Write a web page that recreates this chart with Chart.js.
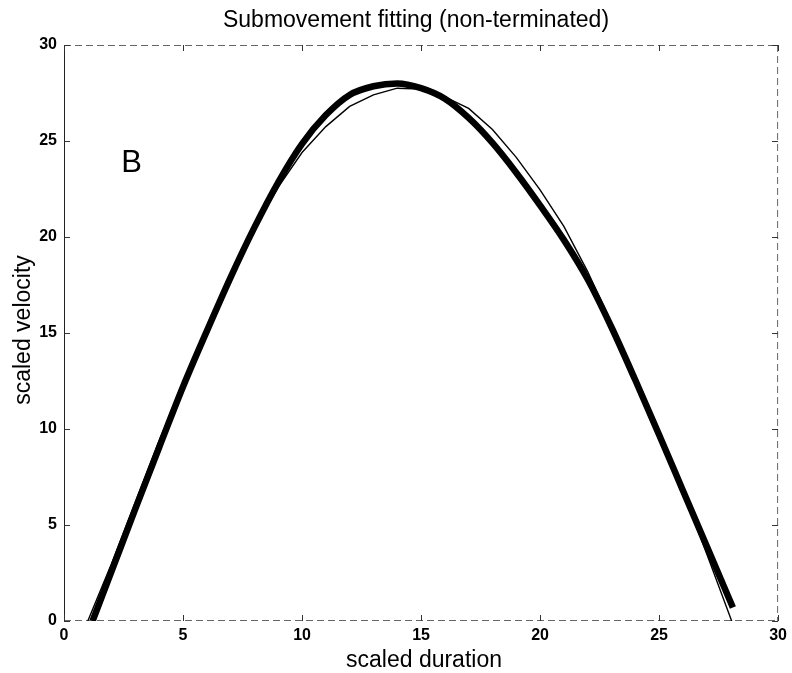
<!DOCTYPE html>
<html>
<head>
<meta charset="utf-8">
<title>Submovement fitting (non-terminated)</title>
<script src="https://cdn.jsdelivr.net/npm/chart.js@4.4.1/dist/chart.umd.min.js"></script>
<style>
  html, body { margin: 0; padding: 0; background: #fff; }
  #wrap { width: 792px; height: 673px; }
</style>
</head>
<body>
<div id="wrap"><canvas id="chart" width="792" height="673"></canvas></div>
<script>
const dataX = [1, 2, 3, 4, 5, 6, 7, 8, 9, 10, 11, 12, 13, 14, 15, 16, 17, 18, 19, 20, 21, 22, 23, 24, 25, 26, 27, 28.05];
const dataY = [0, 3.0, 6.2, 9.4, 12.4, 15.3, 18.0, 20.5, 22.6, 24.4, 25.75, 26.8, 27.4, 27.75, 27.7, 27.3, 26.7, 25.6, 24.15, 22.45, 20.55, 18.2, 15.5, 12.7, 9.8, 6.8, 3.5, 0];

// thick line: fitted submovement
const fitX = [1.2, 2, 3, 4, 5, 6, 7, 8, 9, 10, 11, 12, 13, 14, 15, 16, 17, 18, 19, 20, 21, 22, 23, 24, 25, 26, 27, 28.1];
const fitY = [0, 2.6, 5.85, 9.05, 12.2, 15.1, 17.9, 20.5, 22.85, 24.85, 26.35, 27.4, 27.85, 28.0, 27.75, 27.2, 26.2, 24.9, 23.35, 21.65, 19.85, 17.8, 15.3, 12.55, 9.7, 6.8, 3.9, 0.7];

const xTicks = [0, 5, 10, 15, 20, 25, 30];
const yTicks = [0, 5, 10, 15, 20, 25, 30];

const titleText = 'Submovement fitting (non-terminated)';
const xLabel = 'scaled duration';
const yLabel = 'scaled velocity';
const panelLetter = 'B';

const toPoints = (xs, ys) => xs.map((x, i) => ({ x, y: ys[i] }));

// frame, inward ticks and all the free text
const decor = {
  id: 'decor',
  beforeDatasetsDraw(chart) {
    const { ctx, chartArea: a, scales: { x, y } } = chart;
    ctx.save();
    ctx.lineWidth = 1;
    // left axis solid
    ctx.strokeStyle = '#222';
    ctx.beginPath();
    ctx.moveTo(a.left + 0.5, a.top);
    ctx.lineTo(a.left + 0.5, a.bottom);
    ctx.stroke();
    // other sides look broken up in the scan
    ctx.strokeStyle = '#666';
    ctx.setLineDash([7, 4]);
    ctx.beginPath();
    ctx.moveTo(a.left, a.top + 0.5); ctx.lineTo(a.right, a.top + 0.5);
    ctx.moveTo(a.right - 0.5, a.top); ctx.lineTo(a.right - 0.5, a.bottom);
    ctx.moveTo(a.left, a.bottom - 0.5); ctx.lineTo(a.right, a.bottom - 0.5);
    ctx.stroke();
    ctx.setLineDash([]);
    ctx.strokeStyle = '#333';
    ctx.beginPath();
    xTicks.forEach(v => {
      const px = Math.round(x.getPixelForValue(v)) + 0.5;
      ctx.moveTo(px, a.bottom); ctx.lineTo(px, a.bottom - 6);
      ctx.moveTo(px, a.top); ctx.lineTo(px, a.top + 6);
    });
    yTicks.forEach(v => {
      const py = Math.round(y.getPixelForValue(v)) + 0.5;
      ctx.moveTo(a.left, py); ctx.lineTo(a.left + 6, py);
      ctx.moveTo(a.right, py); ctx.lineTo(a.right - 6, py);
    });
    ctx.stroke();
    ctx.restore();
  },
  afterDraw(chart) {
    const { ctx, scales: { x, y } } = chart;
    ctx.save();
    ctx.fillStyle = '#000';
    ctx.textAlign = 'center';
    ctx.textBaseline = 'alphabetic';
    ctx.font = '23px "Liberation Sans Narrow", "Liberation Sans", sans-serif';
    ctx.fillText(titleText, 416, 27);
    ctx.font = '23px "Liberation Sans", Arial, sans-serif';
    ctx.fillText(xLabel, 424, 667);
    ctx.translate(30, 330);
    ctx.rotate(-Math.PI / 2);
    ctx.fillText(yLabel, 0, 0);
    ctx.restore();

    ctx.save();
    ctx.fillStyle = '#000';
    ctx.font = '31px "Liberation Sans", sans-serif';
    ctx.textAlign = 'left';
    ctx.fillText(panelLetter, x.getPixelForValue(2.4), y.getPixelForValue(23.4));
    ctx.restore();
  }
};

const tickFont = { family: '"Liberation Sans Narrow", "Liberation Sans", sans-serif', size: 16, weight: 'bold' };

new Chart(document.getElementById('chart'), {
  type: 'scatter',
  data: {
    datasets: [
      {
        label: 'fit',
        data: toPoints(fitX, fitY),
        showLine: true,
        borderColor: '#000',
        borderWidth: 6.5,
        pointRadius: 0,
        cubicInterpolationMode: 'monotone',
        borderCapStyle: 'butt'
      },
      {
        label: 'data',
        data: toPoints(dataX, dataY),
        showLine: true,
        borderColor: '#000',
        borderWidth: 1.4,
        pointRadius: 0,
        tension: 0
      }
    ]
  },
  options: {
    responsive: false,
    animation: false,
    layout: { padding: { top: 45, right: 10, left: 0, bottom: 0 } },
    plugins: { legend: { display: false }, tooltip: { enabled: false } },
    scales: {
      x: {
        type: 'linear', min: 0, max: 30,
        afterBuildTicks: s => { s.ticks = xTicks.map(v => ({ value: v })); },
        afterFit: s => { s.height = 52; },
        grid: { display: false, drawTicks: false },
        border: { display: false },
        ticks: { color: '#000', font: tickFont, padding: 5, maxRotation: 0, autoSkip: false }
      },
      y: {
        type: 'linear', min: 0, max: 30,
        afterBuildTicks: s => { s.ticks = yTicks.map(v => ({ value: v })); },
        afterFit: s => { s.width = 64; },
        grid: { display: false, drawTicks: false },
        border: { display: false },
        ticks: { color: '#000', font: tickFont, padding: 7, autoSkip: false }
      }
    }
  },
  plugins: [decor]
});
</script>
</body>
</html>
